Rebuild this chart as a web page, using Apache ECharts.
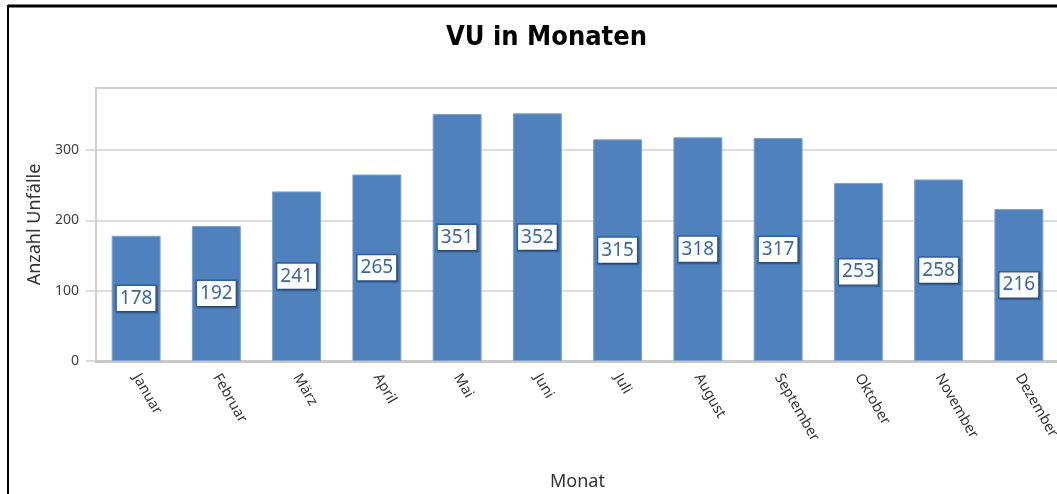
<!DOCTYPE html>
<html>
<head>
<meta charset="utf-8">
<title>VU in Monaten</title>
<script src="https://cdn.jsdelivr.net/npm/echarts@6/dist/echarts.min.js"></script>
<style>
  html, body { margin: 0; padding: 0; background: #fff; }
  #chart { width: 1057px; height: 494px; }
</style>
</head>
<body>
<div id="chart"></div>
<script>
// Monate und Anzahl Unfälle
const months = ['Januar', 'Februar', 'März', 'April', 'Mai', 'Juni', 'Juli', 'August', 'September', 'Oktober', 'November', 'Dezember']
const accidents = [178, 192, 241, 265, 351, 352, 315, 318, 317, 253, 258, 216]
const yTicks = [0, 100, 200, 300]

const chart = echarts.init(document.getElementById('chart'))

const option = {
  animation: false,
  textStyle: {
    fontFamily: 'Noto Sans'
  },
  title: {
    text: 'VU in Monaten',
    left: 446,
    top: 24,
    padding: 0,
    textStyle: {
      fontFamily: 'DejaVu Sans Condensed',
      fontWeight: 'bold',
      fontSize: 27,
      color: '#000'
    }
  },
  // schwarzer Rahmen oben und links
  graphic: [
    { type: 'line', shape: { x1: 8, y1: 6, x2: 1057, y2: 6 }, style: { stroke: '#000', lineWidth: 3 } },
    { type: 'line', shape: { x1: 8, y1: 5, x2: 8, y2: 494 }, style: { stroke: '#000', lineWidth: 2 } }
  ],
  grid: {
    left: 96,
    top: 88,
    width: 963,
    height: 273,
    outerBoundsMode: 'none',
    containLabel: false,
    show: true,
    borderColor: '#cfcfcf',
    borderWidth: 2
  },
  xAxis: {
    type: 'category',
    data: months,
    name: 'Monat',
    nameLocation: 'middle',
    nameGap: 112,
    nameTextStyle: {
      fontSize: 18,
      color: '#333'
    },
    axisLine: {
      lineStyle: {
        color: '#c8c8c8',
        width: 3
      }
    },
    axisTick: {
      alignWithLabel: true,
      length: 10,
      lineStyle: {
        color: '#cfcfcf',
        width: 2
      }
    },
    axisLabel: {
      rotate: -60,
      margin: 14,
      fontSize: 14.5,
      color: '#333'
    }
  },
  yAxis: {
    type: 'value',
    min: 0,
    max: 388,
    interval: 100,
    name: 'Anzahl Unfälle',
    nameLocation: 'middle',
    nameGap: 52,
    nameTextStyle: {
      fontSize: 18,
      color: '#333'
    },
    axisLine: {
      show: true,
      lineStyle: {
        color: '#cfcfcf',
        width: 2
      }
    },
    axisTick: {
      show: true,
      length: 10,
      customValues: yTicks,
      lineStyle: {
        color: '#cfcfcf',
        width: 1.5
      }
    },
    axisLabel: {
      customValues: yTicks,
      margin: 17,
      fontSize: 14,
      color: '#404040'
    },
    splitLine: {
      lineStyle: {
        color: '#d0d0d0',
        width: 1.5
      }
    }
  },
  series: [
    {
      name: 'Anzahl Unfälle',
      type: 'bar',
      data: accidents,
      barWidth: '61%',
      itemStyle: {
        color: '#4f81bd',
        borderColor: '#7fa2cf',
        borderWidth: 1
      },
      label: {
        show: true,
        position: 'inside',
        fontSize: 19,
        color: '#3a66a6',
        backgroundColor: '#fff',
        borderColor: '#2f5e9c',
        borderWidth: 1.5,
        padding: [4, 3, 2, 3],
        shadowColor: 'rgba(0,0,0,0.25)',
        shadowOffsetX: 1,
        shadowOffsetY: 1,
        shadowBlur: 1
      }
    }
  ]
}

chart.setOption(option)
</script>
</body>
</html>
